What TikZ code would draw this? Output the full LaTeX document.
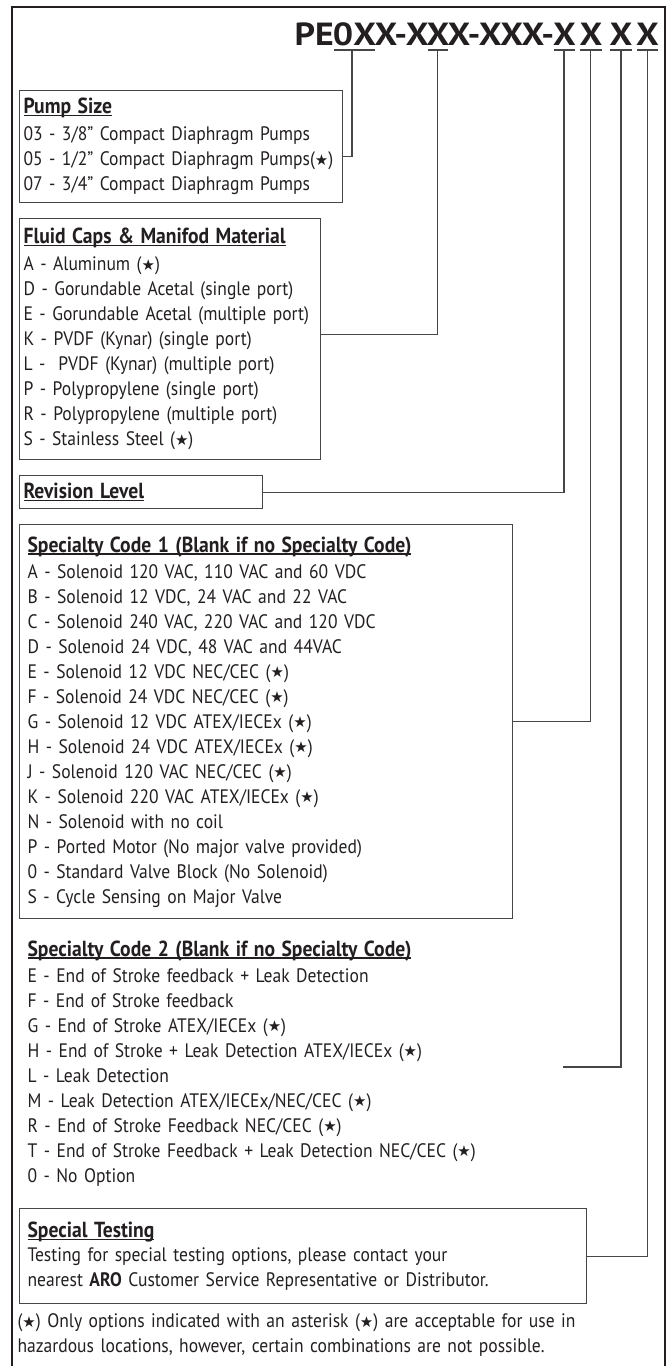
\documentclass[tikz,border=0pt]{standalone}
\usepackage{fontspec}
\setmainfont{PT Sans}[FakeStretch=0.9]
\newfontfamily\codefont{PT Sans}[FakeStretch=1.12]
\newfontfamily\symfont{DejaVu Sans}
\usepackage{tikz}
\usetikzlibrary{positioning}

\definecolor{ink}{RGB}{35,31,32}
\definecolor{rulegray}{RGB}{70,70,70}
\newcommand{\haz}{({\symfont\fontsize{15}{13}\selectfont\raisebox{0.4pt}{★}})}
\newcommand{\uhead}[1]{\setbox0=\hbox{\bfseries\fontsize{21.8}{25}\selectfont #1}\rlap{\rule[-2.5pt]{\wd0}{1.2pt}}\box0}

\begin{document}
\begin{tikzpicture}[x=1pt, y=-1pt,
    node distance=15pt,
    box/.style={rectangle, draw=rulegray, line width=1.1pt, anchor=north west, align=left, inner xsep=4pt, inner ysep=0pt, text=ink, font=\fontsize{19.5}{25}\selectfont},
    plain/.style={box, draw=none},
    code/.style={anchor=base, inner sep=0pt, text=ink, font=\codefont\bfseries\fontsize{32}{32}\selectfont},
    link/.style={draw=rulegray, line width=1.1pt},
]
\useasboundingbox (0,0) rectangle (672,1366);
\draw[line width=1.8pt, draw=ink] (12,1370) -- (12,7) -- (665,7) -- (665,1370);

\node[code, anchor=base east] (pe) at (334,45) {PE};
\node[code] (size) at (354.5,45) {0X};
\node[code] (xdx) at (401.5,45) {X-X};
\node[code] (mat) at (438,45) {X};
\node[code] (xmid) at (501,45) {X-XXX-};
\node[code] (rx) at (564.5,45) {X};
\node[code] (sx1) at (591,45) {X};
\node[code] (sx2) at (621,45) {X};
\node[code] (tx) at (647.5,45) {X};

\foreach \a/\b in {334/375, 428/448, 554/575, 580/602, 610/632, 637/658}
    \draw[link] (\a,50) -- (\b,50);
\coordinate (u1) at (352,50);
\coordinate (u2) at (437.5,50);
\coordinate (u3) at (564,50);
\coordinate (u4) at (590.5,50);
\coordinate (u5) at (621,50);
\coordinate (u6) at (647.5,50);

\node[box, text width=315pt, minimum height=112pt] (pump) at (19,90) {\uhead{Pump Size}\\[2pt]
    03 - 3/8” Compact Diaphragm Pumps\\
    05 - 1/2” Compact Diaphragm Pumps\haz\\
    07 - 3/4” Compact Diaphragm Pumps};
\node[box, text width=293pt, minimum height=241pt, below=of pump.south west, anchor=north west] (fluid) {\uhead{Fluid Caps \& Manifod Material}\\[2pt]
    A - Aluminum \haz\\
    D - Gorundable Acetal (single port)\\
    E - Gorundable Acetal (multiple port)\\
    K - PVDF (Kynar) (single port)\\
    L -~ PVDF (Kynar) (multiple port)\\
    P - Polypropylene (single port)\\
    R - Polypropylene (multiple port)\\
    S - Stainless Steel \haz};
\node[box, text width=235pt, minimum height=33pt, below=of fluid.south west, anchor=north west] (rev) {\uhead{Revision Level}};
\node[box, inner xsep=8pt, text width=477pt, minimum height=394pt, below=of rev.south west, anchor=north west] (spec1) {\uhead{Specialty Code 1 (Blank if no Specialty Code)}\\[1pt]
    A - Solenoid 120 VAC, 110 VAC and 60 VDC\\
    B - Solenoid 12 VDC, 24 VAC and 22 VAC\\
    C - Solenoid 240 VAC, 220 VAC and 120 VDC\\
    D - Solenoid 24 VDC, 48 VAC and 44VAC\\
    E - Solenoid 12 VDC NEC/CEC \haz\\
    F - Solenoid 24 VDC NEC/CEC \haz\\
    G - Solenoid 12 VDC ATEX/IECEx \haz\\
    H - Solenoid 24 VDC ATEX/IECEx \haz\\
    J - Solenoid 120 VAC NEC/CEC \haz\\
    K - Solenoid 220 VAC ATEX/IECEx \haz\\
    N - Solenoid with no coil\\
    P - Ported Motor (No major valve provided)\\
    0 - Standard Valve Block (No Solenoid)\\
    S - Cycle Sensing on Major Valve};
\node[plain, inner xsep=8pt, text width=600pt] (spec2) at (19,940) {\uhead{Specialty Code 2 (Blank if no Specialty Code)}\\[1pt]
    E - End of Stroke feedback + Leak Detection\\
    F - End of Stroke feedback\\
    G - End of Stroke ATEX/IECEx \haz\\
    H - End of Stroke + Leak Detection ATEX/IECEx \haz\\
    L - Leak Detection\\
    M - Leak Detection ATEX/IECEx/NEC/CEC \haz\\
    R - End of Stroke Feedback NEC/CEC \haz\\
    T - End of Stroke Feedback + Leak Detection NEC/CEC \haz\\
    0 - No Option};
\node[box, inner xsep=8pt, text width=551pt, minimum height=95pt] (test) at (19,1208) {\uhead{Special Testing}\\[-1pt]
    Testing for special testing options, please contact your\\
    nearest \textbf{ARO} Customer Service Representative or Distributor.};
\node[plain, inner xsep=5pt, text width=640pt] (note) at (12,1313) {\haz{} Only options indicated with an asterisk \haz{} are acceptable for use in\\
    hazardous locations, however, certain combinations are not possible.};

\coordinate (sc2end) at (563,1067);
\draw[link] (u1) |- ([yshift=-10pt]pump.east);
\draw[link] (u2) |- ([yshift=4.5pt]fluid.east);
\draw[link] (u3) |- (rev.east);
\draw[link] (u4) |- (spec1.east);
\draw[link] (u5) |- (sc2end);
\draw[link] (u6) |- (test.east);
\end{tikzpicture}
\end{document}
